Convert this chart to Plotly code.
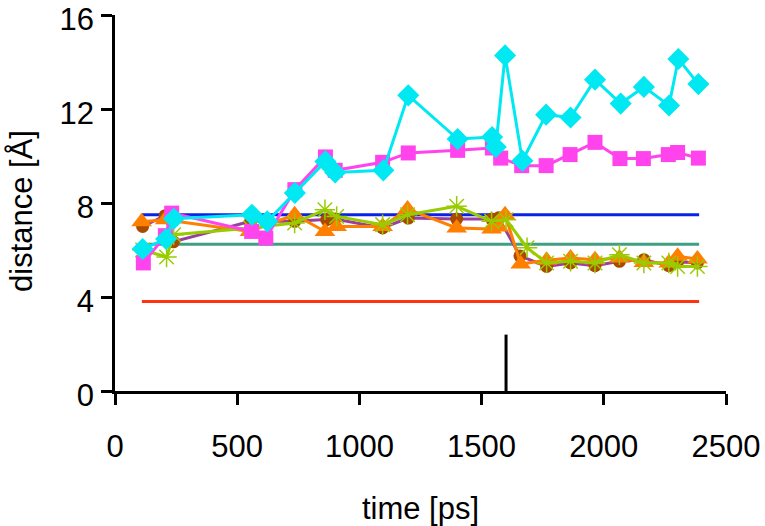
import plotly.graph_objects as go

# ---- data ----
t_cyan = [113, 209, 241, 560, 623, 736, 861, 901, 1098, 1200, 1402, 1543, 1558, 1596, 1667, 1764, 1864, 1964, 2069, 2164, 2267, 2305, 2387]
d_cyan = [6.04, 6.47, 7.33, 7.50, 7.22, 8.43, 9.77, 9.30, 9.39, 12.58, 10.72, 10.81, 10.38, 14.28, 9.80, 11.76, 11.64, 13.25, 12.23, 12.94, 12.15, 14.13, 13.06]

t_mag = [116, 206, 232, 559, 617, 736, 861, 901, 1095, 1200, 1402, 1544, 1578, 1664, 1764, 1862, 1964, 2066, 2162, 2264, 2302, 2387]
d_mag = [5.45, 6.61, 7.57, 6.79, 6.51, 8.57, 9.96, 9.39, 9.73, 10.13, 10.24, 10.34, 9.91, 9.59, 9.59, 10.06, 10.58, 9.89, 9.89, 10.06, 10.15, 9.91]

t_brown = [113, 205, 239, 555, 735, 866, 900, 1095, 1200, 1398, 1541, 1570, 1657, 1766, 1864, 1964, 2064, 2164, 2266, 2302, 2383]
d_brown = [7.00, 7.46, 6.35, 7.22, 7.22, 7.29, 7.32, 6.94, 7.36, 7.32, 7.32, 7.37, 5.75, 5.30, 5.45, 5.33, 5.52, 5.59, 5.33, 5.50, 5.45]

t_orange = [109, 205, 552, 735, 859, 907, 1095, 1197, 1398, 1541, 1570, 1596, 1660, 1766, 1864, 1964, 2064, 2164, 2266, 2302, 2383]
d_orange = [7.20, 7.29, 6.79, 7.50, 6.79, 7.00, 7.00, 7.74, 6.94, 6.89, 6.98, 7.50, 5.40, 5.56, 5.66, 5.59, 5.66, 5.47, 5.45, 5.73, 5.62]

t_green = [113, 211, 240, 555, 735, 859, 907, 1095, 1197, 1398, 1541, 1600, 1686, 1766, 1864, 1964, 2064, 2164, 2266, 2302, 2383]
d_green = [6.00, 5.70, 6.65, 6.94, 7.15, 7.71, 7.43, 7.08, 7.50, 7.86, 7.22, 7.29, 6.10, 5.45, 5.52, 5.45, 5.80, 5.45, 5.45, 5.30, 5.30]

ref_t = [110, 2390]
ref_blue = [7.50, 7.50]
ref_teal = [6.24, 6.24]
ref_red = [3.81, 3.81]

marker_t = [1600, 1600]
marker_d = [0, 2.4]

x_ticks = [0, 500, 1000, 1500, 2000, 2500]
y_ticks = [0, 4, 8, 12, 16]

FONT = "Liberation Sans, Arial, sans-serif"
Y_MAX = 16

# geometry (pixels)
W, H = 765, 526
L, R, T = 115, 39, 15
AXIS_BOTTOM = 391          # pixel row of the x axis
EXTRA = 10                 # extra room below plot for the label axis
B = H - AXIS_BOTTOM - EXTRA
AREA_H = H - T - B         # paper height
PX_PER_UNIT = (AXIS_BOTTOM - T) / Y_MAX
LABEL_DROP = 4.5           # tick labels sit a little below their ticks
lo2 = -(EXTRA - LABEL_DROP) / PX_PER_UNIT
hi2 = lo2 + AREA_H / PX_PER_UNIT

fig = go.Figure()

for yv, col in [(ref_blue, "#0a22e8"), (ref_teal, "#3f9f82"), (ref_red, "#ff3312")]:
    fig.add_trace(go.Scatter(x=ref_t, y=yv, mode="lines", line=dict(color=col, width=3), hoverinfo="skip"))

fig.add_trace(go.Scatter(x=marker_t, y=marker_d, mode="lines", line=dict(color="black", width=3)))

fig.add_trace(go.Scatter(x=t_brown, y=d_brown, mode="lines+markers",
                         line=dict(color="#9a3fa0", width=3),
                         marker=dict(symbol="circle", size=13, color="#a84a00")))
fig.add_trace(go.Scatter(x=t_orange, y=d_orange, mode="lines+markers",
                         line=dict(color="#ff7f00", width=3),
                         marker=dict(symbol="triangle-up", size=18, color="#ff7f00")))
fig.add_trace(go.Scatter(x=t_green, y=d_green, mode="lines+markers",
                         line=dict(color="#99cc00", width=3),
                         marker=dict(symbol="asterisk-open", size=17, line=dict(color="#99cc00", width=1.5))))
fig.add_trace(go.Scatter(x=t_mag, y=d_mag, mode="lines+markers",
                         line=dict(color="#ff44ee", width=3),
                         marker=dict(symbol="square", size=15, color="#ff44ee")))
fig.add_trace(go.Scatter(x=t_cyan, y=d_cyan, mode="lines+markers",
                         line=dict(color="#00e8f2", width=3),
                         marker=dict(symbol="diamond", size=17, color="#00e8f2")))
# helper trace so the label axis is drawn
fig.add_trace(go.Scatter(x=[None], y=[None], yaxis="y2", mode="lines", hoverinfo="skip"))

axis_common = dict(showgrid=False, zeroline=False, showline=True, linecolor="black", linewidth=3,
                   ticks="outside", ticklen=11, tickwidth=3, tickcolor="black", automargin=False,
                   ticklabeloverflow="allow",
                   tickfont=dict(family=FONT, size=31, color="black"))

fig.update_layout(
    width=W, height=H,
    margin=dict(l=L, r=R, t=T, b=B),
    paper_bgcolor="white", plot_bgcolor="rgba(0,0,0,0)",
    showlegend=False,
    xaxis=dict(range=[0, 2500], tickmode="array", tickvals=x_ticks, ticklabelstandoff=15,
               title=dict(text="time [ps]", font=dict(family=FONT, size=31, color="black"), standoff=38),
               **axis_common),
    yaxis=dict(range=[0, Y_MAX], domain=[EXTRA / AREA_H, 1], tickmode="array", tickvals=y_ticks,
               showticklabels=False, **axis_common),
    yaxis2=dict(range=[lo2, hi2], domain=[0, 1], anchor="x", side="left",
                showgrid=False, zeroline=False, showline=False, ticks="", automargin=False,
                tickmode="array", tickvals=y_ticks, ticktext=[str(v) for v in y_ticks],
                ticklabelstandoff=20, ticklabeloverflow="allow",
                tickfont=dict(family=FONT, size=31, color="black")),
    annotations=[dict(text="distance [Å]", textangle=-90, showarrow=False,
                      xref="paper", yref="paper", x=(21 - L) / (W - L - R),
                      y=(AXIS_BOTTOM + EXTRA - 211) / AREA_H,
                      xanchor="center", yanchor="middle",
                      font=dict(family=FONT, size=31, color="black"))],
)

fig.write_html("out.html", config={"displayModeBar": False},
               post_script="document.body.style.margin='0px';")
